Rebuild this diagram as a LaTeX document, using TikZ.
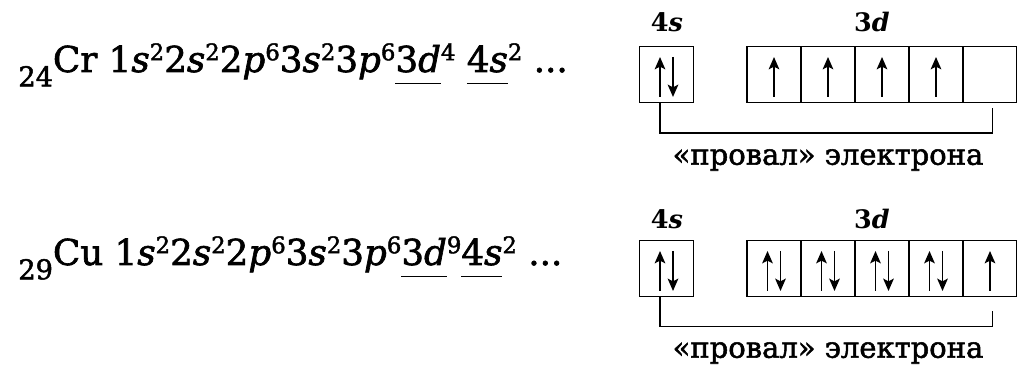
\documentclass[tikz,border=0pt]{standalone}
\usepackage{fontspec}
\setmainfont{DejaVu Serif}
\newfontfamily\formfont{DejaVu Serif}[FakeBold=1.8]
\usetikzlibrary{arrows.meta, positioning, calc}
\newcommand{\sps}[1]{\raisebox{0.33em}{\fontsize{13}{14}\selectfont #1}}
\newcommand{\sbs}[1]{\raisebox{-0.4em}{\fontsize{15.5}{16}\selectfont #1}}
\newcommand{\ul}[1]{\underline{#1\rule[-0.26em]{0pt}{0pt}}}
\tikzset{
    orbital/.style={
        draw=black,
        line width=0.9pt,
        minimum width=1.08cm,
        minimum height=1.12cm,
        inner sep=0pt,
        outer sep=0pt
    },
    formula/.style={
        anchor=base west,
        inner sep=0pt,
        font=\formfont\fontsize{20.3}{24}\selectfont
    },
    sublabel/.style={
        anchor=base,
        font=\fontsize{14.5}{17}\selectfont\bfseries,
        inner sep=0pt
    },
    note/.style={
        font=\formfont\fontsize{16.5}{20}\selectfont,
        inner sep=0pt
    },
    spin/.style={
        line width=1.1pt,
        -{Stealth[length=7pt,width=6pt,inset=1.5pt]}
    },
    bracket/.style={
        line width=0.9pt,
        black
    }
}

\begin{document}
\begin{tikzpicture}
        \useasboundingbox (0,0) rectangle (20.34,-7.66);

        % Chromium
        \node[formula] (crconf) at (0.36,-1.44) {\sbs{24}Cr 1\textit{s}\sps{2}2\textit{s}\sps{2}2\textit{p}\sps{6}3\textit{s}\sps{2}3\textit{p}\sps{6}\ul{3\textit{d}}\sps{4} \ul{4\textit{s}}\sps{2} ...};

        \node[orbital] (cr4s) at (13.33,-1.49) {};
        \node[orbital] (crd1) at (15.48,-1.49) {};
        \node[orbital, right=0pt of crd1] (crd2) {};
        \node[orbital, right=0pt of crd2] (crd3) {};
        \node[orbital, right=0pt of crd3] (crd4) {};
        \node[orbital, right=0pt of crd4] (crd5) {};

        \node[sublabel] (cr4slab) at (13.34,-0.64) {4\textit{s}};
        \node[sublabel] (cr3dlab) at (17.44,-0.64) {3\textit{d}};

        \draw[spin] ($(cr4s.center)+(-0.13,-0.45)$) -- ++(0,0.8);
        \draw[spin] ($(cr4s.center)+(0.13,0.35)$) -- ++(0,-0.8);
        \foreach \b in {crd1,crd2,crd3,crd4}
            \draw[spin] ($(\b.center)+(0,-0.45)$) -- ++(0,0.8);

        \coordinate (crend) at ($(crd5.south)+(0.05,-0.12)$);
        \draw[bracket] ([xshift=-1.3mm]cr4s.south) -- ++(0,-0.61) -| (crend);
        \node[note] (crnote) at (16.56,-3.2) {«провал» электрона};

        % Copper
        \node[formula] (cuconf) at (0.36,-5.30) {\sbs{29}Cu 1\textit{s}\sps{2}2\textit{s}\sps{2}2\textit{p}\sps{6}3\textit{s}\sps{2}3\textit{p}\sps{6}\ul{3\textit{d}}\sps{9}\ul{4\textit{s}}\sps{2} ...};

        \node[orbital] (cu4s) at (13.33,-5.37) {};
        \node[orbital] (cud1) at (15.48,-5.37) {};
        \node[orbital, right=0pt of cud1] (cud2) {};
        \node[orbital, right=0pt of cud2] (cud3) {};
        \node[orbital, right=0pt of cud3] (cud4) {};
        \node[orbital, right=0pt of cud4] (cud5) {};

        \node[sublabel] (cu4slab) at (13.34,-4.57) {4\textit{s}};
        \node[sublabel] (cu3dlab) at (17.44,-4.57) {3\textit{d}};

        \foreach \b in {cu4s,cud1,cud2,cud3,cud4} {
            \draw[spin] ($(\b.center)+(-0.13,-0.45)$) -- ++(0,0.8);
            \draw[spin] ($(\b.center)+(0.13,0.35)$) -- ++(0,-0.8);
        }
        \draw[spin] ($(cud5.center)+(0,-0.45)$) -- ++(0,0.8);

        \coordinate (cuend) at ($(cud5.south)+(0.05,-0.3)$);
        \draw[bracket] ([xshift=-1.3mm]cu4s.south) -- ++(0,-0.6) -| (cuend);
        \node[note] (cunote) at (16.56,-7.06) {«провал» электрона};
    \end{tikzpicture}
\end{document}
